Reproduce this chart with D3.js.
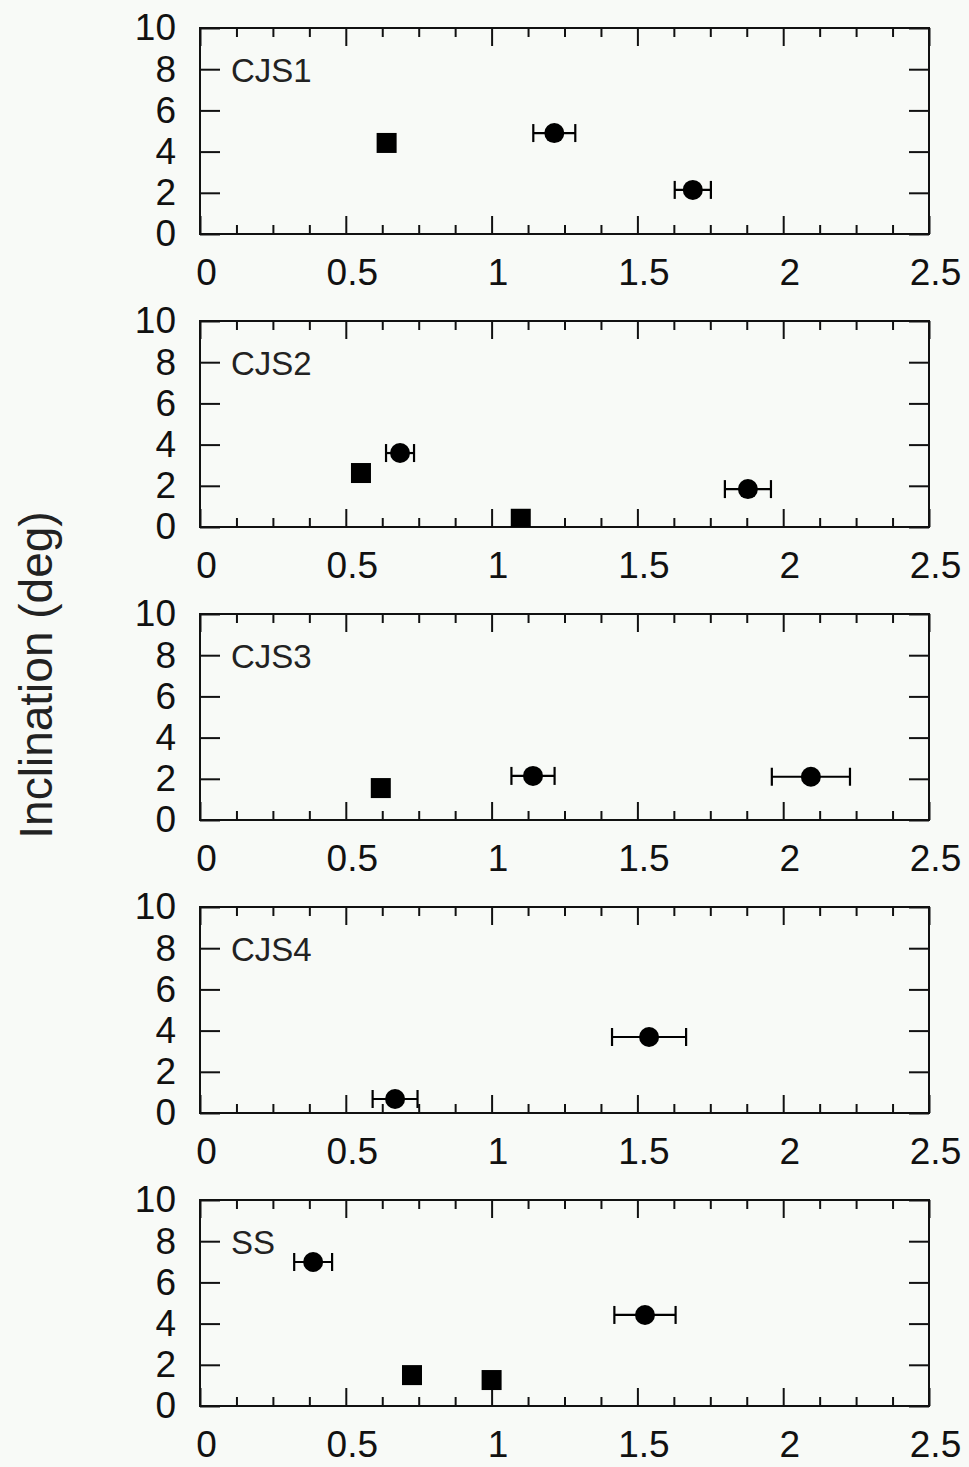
<!DOCTYPE html>
<html>
<head>
<meta charset="utf-8">
<script src="https://cdn.jsdelivr.net/npm/d3@7"></script>
<style>
  html, body { margin: 0; padding: 0; background: #f8faf7; }
  svg { display: block; }
</style>
</head>
<body>
<svg id="chart" width="969" height="1467"></svg>
<script>
// ---- data ----
const panelNames = ["CJS1", "CJS2", "CJS3", "CJS4", "SS"];
const xTicks = [0, 0.5, 1, 1.5, 2, 2.5];
const xTickLabels = ["0", "0.5", "1", "1.5", "2", "2.5"];
const yTicks = [0, 2, 4, 6, 8, 10];
const yTickLabels = ["0", "2", "4", "6", "8", "10"];
const yAxisTitle = "Inclination (deg)";

// per panel: x value, x error, y value, marker shape
const cjs1X     = [0.64, 1.215, 1.69];
const cjs1XErr  = [0.025, 0.072, 0.062];
const cjs1Y     = [4.42, 4.9, 2.14];
const cjs1Shape = ["square", "circle", "circle"];

const cjs2X     = [0.552, 0.686, 1.10, 1.879];
const cjs2XErr  = [0.025, 0.048, 0.025, 0.079];
const cjs2Y     = [2.62, 3.59, 0.4, 1.84];
const cjs2Shape = ["square", "circle", "square", "circle"];

const cjs3X     = [0.62, 1.142, 2.095];
const cjs3XErr  = [0.025, 0.074, 0.134];
const cjs3Y     = [1.55, 2.14, 2.1];
const cjs3Shape = ["square", "circle", "circle"];

const cjs4X     = [0.669, 1.54];
const cjs4XErr  = [0.077, 0.127];
const cjs4Y     = [0.68, 3.69];
const cjs4Shape = ["circle", "circle"];

const ssX       = [0.388, 0.727, 1.0, 1.526];
const ssXErr    = [0.065, 0.025, 0.025, 0.105];
const ssY       = [6.99, 1.5, 1.26, 4.42];
const ssShape   = ["circle", "square", "square", "circle"];

const panelX     = [cjs1X, cjs2X, cjs3X, cjs4X, ssX];
const panelXErr  = [cjs1XErr, cjs2XErr, cjs3XErr, cjs4XErr, ssXErr];
const panelY     = [cjs1Y, cjs2Y, cjs3Y, cjs4Y, ssY];
const panelShape = [cjs1Shape, cjs2Shape, cjs3Shape, cjs4Shape, ssShape];

// ---- layout ----
const plotLeft = 200, plotRight = 929;
const firstTop = 28, panelH = 206, panelStep = 293;
const font = "'Liberation Sans', Arial, Helvetica, sans-serif";
const ink = "#111";

const svg = d3.select("#chart");

const x = d3.scaleLinear().domain([0, 2.5]).range([plotLeft, plotRight]);
const minorTicks = d3.range(0, 20.5).map(i => i * 0.125).filter(v => Math.abs(v / 0.5 - Math.round(v / 0.5)) > 1e-6);

panelNames.forEach((name, p) => {
  const top = firstTop + p * panelStep;
  const bottom = top + panelH;
  const y = d3.scaleLinear().domain([0, 10]).range([bottom, top]);
  const g = svg.append("g");

  // bottom axis: major
  const bMaj = g.append("g").attr("transform", `translate(0,${bottom})`)
    .call(d3.axisBottom(x).tickValues(xTicks).tickFormat((d, i) => xTickLabels[i]).tickSize(-18).tickPadding(25));
  // bottom minor
  const bMin = g.append("g").attr("transform", `translate(0,${bottom})`)
    .call(d3.axisBottom(x).tickValues(minorTicks).tickFormat("").tickSize(-9));
  // top axis
  const tMaj = g.append("g").attr("transform", `translate(0,${top})`)
    .call(d3.axisTop(x).tickValues(xTicks).tickFormat("").tickSize(-18));
  const tMin = g.append("g").attr("transform", `translate(0,${top})`)
    .call(d3.axisTop(x).tickValues(minorTicks).tickFormat("").tickSize(-9));
  // left axis
  const lAx = g.append("g").attr("transform", `translate(${plotLeft},0)`)
    .call(d3.axisLeft(y).tickValues(yTicks).tickFormat((d, i) => yTickLabels[i]).tickSize(-20).tickPadding(24));
  // right axis
  const rAx = g.append("g").attr("transform", `translate(${plotRight},0)`)
    .call(d3.axisRight(y).tickValues(yTicks).tickFormat("").tickSize(-20));

  [bMaj, bMin, tMaj, tMin, lAx, rAx].forEach(a => {
    a.select(".domain").remove();
    a.selectAll(".tick line").attr("stroke", ink).attr("stroke-width", 2);
    a.selectAll("text").attr("fill", ink).style("font-family", font).style("font-size", "37px");
  });
  bMaj.selectAll("text").attr("x", 6);

  // frame
  g.append("rect")
    .attr("x", plotLeft).attr("y", top)
    .attr("width", plotRight - plotLeft).attr("height", panelH)
    .attr("fill", "none").attr("stroke", ink).attr("stroke-width", 2);

  // panel label
  g.append("text")
    .attr("x", 231).attr("y", top + 54)
    .attr("fill", "#222")
    .style("font-family", font).style("font-size", "33px")
    .text(name);

  // points
  const clipId = "clip" + p;
  svg.append("clipPath").attr("id", clipId).append("rect")
    .attr("x", plotLeft).attr("y", top).attr("width", plotRight - plotLeft).attr("height", panelH);
  const pg = g.append("g").attr("clip-path", `url(#${clipId})`);
  const data = panelX[p].map((v, i) => ({ x: v, e: panelXErr[p][i], y: panelY[p][i], s: panelShape[p][i] }));

  const eb = pg.selectAll("g.eb").data(data).join("g").attr("class", "eb")
    .attr("stroke", "#000").attr("stroke-width", 2.2);
  eb.append("line").attr("x1", d => x(d.x - d.e)).attr("x2", d => x(d.x + d.e))
    .attr("y1", d => y(d.y)).attr("y2", d => y(d.y));
  eb.append("line").attr("x1", d => x(d.x - d.e)).attr("x2", d => x(d.x - d.e))
    .attr("y1", d => y(d.y) - 9).attr("y2", d => y(d.y) + 9);
  eb.append("line").attr("x1", d => x(d.x + d.e)).attr("x2", d => x(d.x + d.e))
    .attr("y1", d => y(d.y) - 9).attr("y2", d => y(d.y) + 9);

  pg.selectAll("circle.pt").data(data.filter(d => d.s === "circle")).join("circle")
    .attr("class", "pt").attr("cx", d => x(d.x)).attr("cy", d => y(d.y)).attr("r", 10).attr("fill", "#000");
  pg.selectAll("rect.pt").data(data.filter(d => d.s === "square")).join("rect")
    .attr("class", "pt").attr("x", d => x(d.x) - 10).attr("y", d => y(d.y) - 10)
    .attr("width", 20).attr("height", 20).attr("fill", "#000");
});

// y axis title
svg.append("text")
  .attr("transform", "translate(52,675) rotate(-90)")
  .attr("text-anchor", "middle")
  .attr("fill", "#222")
  .style("font-family", font).style("font-size", "46px")
  .text(yAxisTitle);
</script>
</body>
</html>
